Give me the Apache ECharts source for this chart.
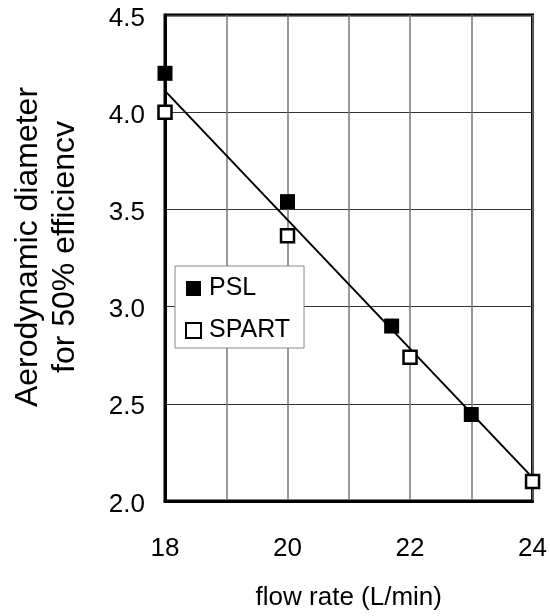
<!DOCTYPE html>
<html>
<head>
<meta charset="utf-8">
<script src="https://cdn.jsdelivr.net/npm/echarts@6/dist/echarts.min.js"></script>
<style>html,body{margin:0;padding:0;background:#fff}#c{width:550px;height:616px}</style>
</head>
<body>
<div id="c"></div>
<script>
const pslX = [18, 20, 21.7, 23];
const pslY = [4.20, 3.54, 2.90, 2.445];
const spartX = [18, 20, 22, 24];
const spartY = [4.00, 3.365, 2.74, 2.10];
const fitX = [18, 24];
const fitY = [4.11, 2.12];
const xTicks = [18, 20, 22, 24];
const seriesNames = ['PSL', 'SPART'];
const xTitle = 'flow rate (L/min)';
const yTitle = 'Aerodynamic diameter\nfor 50% efficiencv';

const zip = (a, b) => a.map((v, i) => [v, b[i]]);
const font = 'Liberation Sans, Arial, sans-serif';
const chart = echarts.init(document.getElementById('c'), null, {renderer: 'canvas'});
chart.setOption({
  animation: false,
  backgroundColor: '#fff',
  grid: {left: 165, right: 17, top: 15, bottom: 114, show: true, borderColor: '#000', borderWidth: 3, backgroundColor: 'transparent'},
  legend: {
    data: [
      {name: seriesNames[0]},
      {name: seriesNames[1], itemStyle: {color: '#fff', borderColor: '#000', borderWidth: 2}}
    ],
    orient: 'vertical',
    left: 175, top: 266,
    padding: [10, 14, 5, 10],
    itemGap: 17,
    itemWidth: 15, itemHeight: 15,
    backgroundColor: '#fff',
    borderColor: '#888', borderWidth: 1,
    textStyle: {fontFamily: font, fontSize: 25, color: '#000', padding: [0, 0, 0, 3]}
  },
  xAxis: {
    type: 'value', min: 18, max: 24, interval: 1,
    axisLine: {show: true, lineStyle: {color: '#000', width: 3}},
    axisTick: {show: false},
    splitLine: {show: true, lineStyle: {color: '#777', width: 1.5}},
    axisLabel: {margin: 35, fontFamily: font, fontSize: 26, color: '#000',
      formatter: v => xTicks.includes(v) ? String(v) : ''},
    name: xTitle, nameLocation: 'middle', nameGap: 84,
    nameTextStyle: {fontFamily: font, fontSize: 26, color: '#000'}
  },
  yAxis: {
    type: 'value', min: 2, max: 4.5, interval: 0.5,
    axisLine: {show: true, lineStyle: {color: '#000', width: 3}},
    axisTick: {show: false},
    splitLine: {show: true, lineStyle: {color: '#333', width: 1}},
    axisLabel: {margin: 20, color: '#000',
      formatter: v => '{t|' + v.toFixed(1) + '}',
      rich: {t: {fontFamily: font, fontSize: 26, color: '#000', padding: [7, 0, 0, 0]}}},
    name: yTitle, nameLocation: 'middle', nameGap: 81, nameRotate: 90,
    nameTextStyle: {fontFamily: font, fontSize: 32, color: '#000', lineHeight: 37, align: 'center', padding: [0, 0, 0, 22]}
  },
  series: [
    {name: 'fit', type: 'line', data: zip(fitX, fitY), showSymbol: false, symbol: 'none',
     lineStyle: {color: '#000', width: 2}, z: 2, silent: true},
    {name: seriesNames[0], type: 'scatter', data: zip(pslX, pslY), symbol: 'rect', symbolSize: 15,
     itemStyle: {color: '#000', opacity: 1}, z: 3},
    {name: seriesNames[1], type: 'scatter', data: zip(spartX, spartY), symbol: 'rect', symbolSize: 13,
     itemStyle: {color: '#fff', borderColor: '#000', borderWidth: 2.5, opacity: 1}, z: 3}
  ]
});
</script>
</body>
</html>
